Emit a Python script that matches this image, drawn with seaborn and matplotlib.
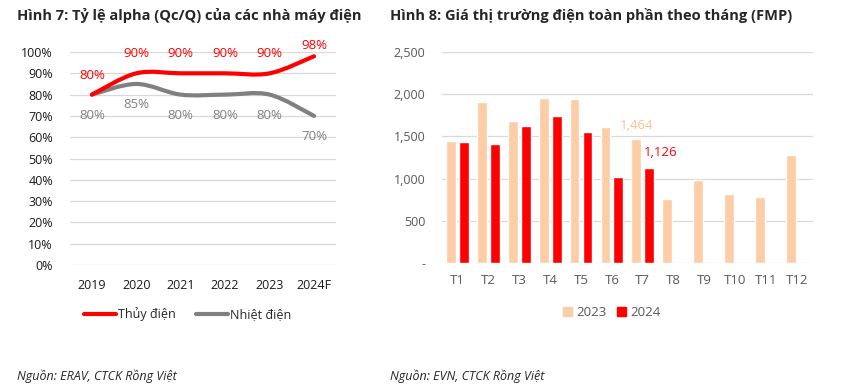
import numpy as np
import pandas as pd
import matplotlib
matplotlib.use("Agg")
import matplotlib.pyplot as plt
from matplotlib.path import Path
from matplotlib.patches import PathPatch
from matplotlib.lines import Line2D
from matplotlib.patches import Patch
import seaborn as sns

# --- data ---
years = ["2019", "2020", "2021", "2022", "2023", "2024F"]
thuy_dien = [0.80, 0.90, 0.90, 0.90, 0.90, 0.98]
nhiet_dien = [0.80, 0.85, 0.80, 0.80, 0.80, 0.70]

months = ["T1", "T2", "T3", "T4", "T5", "T6", "T7", "T8", "T9", "T10", "T11", "T12"]
fmp_2023 = [1450, 1910, 1685, 1960, 1940, 1610, 1464, 765, 985, 815, 780, 1280]
fmp_2024 = [1435, 1410, 1625, 1745, 1555, 1020, 1126, None, None, None, None, None]

RED = "#FF0000"
GREY = "#808080"
PEACH = "#FDCDA6"
GRID = "#D9D9D9"

sns.set_theme(style="white")
plt.rcParams["font.family"] = ["Open Sans", "DejaVu Sans"]

fig = plt.figure(figsize=(8.6, 3.91), dpi=100)

# ---------- left: alpha ratio ----------
ax1 = fig.add_axes([0.081, 0.322, 0.31, 0.545])
df_line = pd.DataFrame({
    "year": years * 2,
    "value": thuy_dien + nhiet_dien,
    "kind": ["Thủy điện"] * 6 + ["Nhiệt điện"] * 6,
})
sns.lineplot(data=df_line, x="year", y="value", hue="kind",
             palette={"Thủy điện": RED, "Nhiệt điện": GREY},
             ax=ax1, lw=0, legend=False, sort=False)


def smooth_path(ys, color):
    # Bezier curve through points (Excel-like smoothed line)
    xs = np.arange(len(ys), dtype=float)
    ys = np.asarray(ys, dtype=float)
    verts = [(xs[0], ys[0])]
    codes = [Path.MOVETO]
    t = 1 / 6
    for i in range(len(xs) - 1):
        p0 = (xs[max(i - 1, 0)], ys[max(i - 1, 0)])
        p1 = (xs[i], ys[i])
        p2 = (xs[i + 1], ys[i + 1])
        p3 = (xs[min(i + 2, len(xs) - 1)], ys[min(i + 2, len(xs) - 1)])
        c1 = (p1[0] + (p2[0] - p0[0]) * t, p1[1] + (p2[1] - p0[1]) * t)
        c2 = (p2[0] - (p3[0] - p1[0]) * t, p2[1] - (p3[1] - p1[1]) * t)
        verts += [c1, c2, p2]
        codes += [Path.CURVE4] * 3
    ax1.add_patch(PathPatch(Path(verts, codes), fill=False, edgecolor=color,
                            lw=3, capstyle="round", joinstyle="round",
                            zorder=3, clip_on=False))


smooth_path(nhiet_dien, GREY)
smooth_path(thuy_dien, RED)

for i, v in enumerate(thuy_dien):
    dy = 8 if i == len(thuy_dien) - 1 else 14
    ax1.annotate(f"{v:.0%}", (i, v), xytext=(0, dy), textcoords="offset points",
                 ha="center", va="center", color=RED, fontsize=9.5)
for i, v in enumerate(nhiet_dien):
    ax1.annotate(f"{v:.0%}", (i, v), xytext=(0, -15), textcoords="offset points",
                 ha="center", va="center", color=GREY, fontsize=9.5)

ax1.set_xlim(-0.5, 5.5)
ax1.set_ylim(0, 1.0)
ax1.set_yticks(np.arange(0, 1.01, 0.1))
ax1.set_yticklabels([f"{int(round(v * 100))}%" for v in np.arange(0, 1.01, 0.1)])
ax1.yaxis.grid(True, color=GRID, lw=0.9)
ax1.set_axisbelow(True)
for s in ax1.spines.values():
    s.set_visible(False)
ax1.tick_params(axis="both", length=0, labelsize=9, colors="#1a1a1a")
ax1.tick_params(axis="x", pad=10)
ax1.tick_params(axis="y", pad=12)
ax1.set_xlabel("")
ax1.set_ylabel("")

handles = [Line2D([0], [0], color=RED, lw=3), Line2D([0], [0], color=GREY, lw=3)]
fig.legend(handles, ["Thủy điện", "Nhiệt điện"], loc="center",
           bbox_to_anchor=(0.218, 0.197), ncol=2, frameon=False, fontsize=9,
           handlelength=2.6, handletextpad=0.15, columnspacing=1.6)

fig.text(0.02, 0.96, "Hình 7: Tỷ lệ alpha (Qc/Q) của các nhà máy điện",
         fontsize=10.5, fontweight="bold", va="center", ha="left")
fig.text(0.02, 0.037, "Nguồn: ERAV, CTCK Rồng Việt", fontsize=9,
         style="italic", va="center", ha="left")

# ---------- right: FMP bars ----------
ax2 = fig.add_axes([0.514, 0.327, 0.431, 0.54])
df_bar = pd.DataFrame({
    "month": months * 2,
    "price": fmp_2023 + fmp_2024,
    "year": ["2023"] * 12 + ["2024"] * 12,
})
sns.barplot(data=df_bar, x="month", y="price", hue="year",
            palette={"2023": PEACH, "2024": RED}, ax=ax2,
            width=0.84, gap=0.24, legend=False, saturation=1)

ax2.annotate(f"{fmp_2023[6]:,}", (6 - 0.21, fmp_2023[6]), xytext=(0, 10),
             textcoords="offset points", ha="center", va="center",
             color="#F9C08F", fontsize=9.5)
ax2.annotate(f"{fmp_2024[6]:,}", (6 + 0.21, fmp_2024[6]), xytext=(8, 11),
             textcoords="offset points", ha="center", va="center",
             color=RED, fontsize=9.5)

ax2.set_xlim(-0.5, 11.5)
ax2.set_ylim(0, 2500)
yt = np.arange(0, 2501, 500)
ax2.set_yticks(yt)
ax2.set_yticklabels(["-"] + [f"{v:,}" for v in yt[1:]])
ax2.yaxis.grid(True, color=GRID, lw=0.9)
ax2.set_axisbelow(True)
for s in ax2.spines.values():
    s.set_visible(False)
ax2.tick_params(axis="both", length=0, labelsize=9, colors="#595959")
ax2.tick_params(axis="x", pad=8, labelsize=9.5)
ax2.tick_params(axis="y", pad=12)
ax2.set_xlabel("")
ax2.set_ylabel("")

handles2 = [Patch(color=PEACH), Patch(color=RED)]
fig.legend(handles2, ["2023", "2024"], loc="center",
           bbox_to_anchor=(0.711, 0.2), ncol=2, frameon=False, fontsize=9.5,
           handlelength=0.7, handleheight=0.7, handletextpad=0.3,
           columnspacing=0.8, labelcolor="#595959")

fig.text(0.453, 0.96, "Hình 8: Giá thị trường điện toàn phần theo tháng (FMP)",
         fontsize=10.5, fontweight="bold", va="center", ha="left")
fig.text(0.453, 0.037, "Nguồn: EVN, CTCK Rồng Việt", fontsize=9,
         style="italic", va="center", ha="left")

fig.savefig("out.png", dpi=100)
